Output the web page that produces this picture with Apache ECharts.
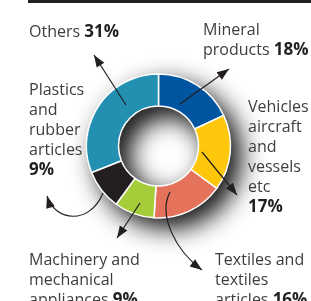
<!DOCTYPE html>
<html>
<head>
<meta charset="utf-8">
<style>
  html, body { margin: 0; padding: 0; background: #fff; }
  #chart { width: 311px; height: 301px; }
</style>
<script src="https://cdn.jsdelivr.net/npm/echarts@6/dist/echarts.min.js"></script>
</head>
<body>
<div id="chart"></div>
<script>
// clockwise from 12 o'clock; a trailing \n puts the share on its own line
var categories = [
    'Mineral\nproducts',
    'Vehicles\naircraft\nand\nvessels\netc\n',
    'Textiles and\ntextiles\narticles',
    'Machinery and\nmechanical\nappliances',
    'Plastics\nand\nrubber\narticles\n',
    'Others'
];
var shares = [18, 17, 16, 9, 9, 31];
var colors = ['#0055a1', '#fec70c', '#e5735b', '#a5cd39', '#231f20', '#238fb1'];

// where each label block sits (top-left corner)
var labelPos = [[203, 20], [248, 97], [215, 250], [29, 250], [29, 80], [29, 22]];

var chart = echarts.init(document.getElementById('chart'));

function arrowHead(x1, y1, x2, y2){
    // small filled triangle pointing from (x1,y1) towards (x2,y2)
    var a = Math.atan2(y2 - y1, x2 - x1), len = 12, w = 4.5;
    var bx = x2 - len * Math.cos(a), by = y2 - len * Math.sin(a);
    return {
        type: 'polygon',
        shape: { points: [
            [x2, y2],
            [bx + w * Math.sin(a), by - w * Math.cos(a)],
            [bx - w * Math.sin(a), by + w * Math.cos(a)]
        ]},
        style: { fill: '#231f20' },
        z: 10
    };
}
function straight(x1, y1, x2, y2){
    return [{
        type: 'line',
        shape: { x1: x1, y1: y1, x2: x2, y2: y2 },
        style: { stroke: '#231f20', lineWidth: 1.2 },
        z: 10
    }, arrowHead(x1, y1, x2, y2)];
}
function curve(x1, y1, cx1, cy1, cx2, cy2, x2, y2){
    return [{
        type: 'bezierCurve',
        shape: { x1: x1, y1: y1, cpx1: cx1, cpy1: cy1, cpx2: cx2, cpy2: cy2, x2: x2, y2: y2 },
        style: { stroke: '#231f20', lineWidth: 1.2, fill: null },
        z: 10
    }, arrowHead(cx2, cy2, x2, y2)];
}

var arrows = [].concat(
    straight(126, 105, 94, 55),
    straight(180, 104, 229, 69),
    straight(202, 152, 237, 195),
    straight(140, 203, 117, 238),
    curve(170, 192, 158, 215, 175, 250, 202, 270),
    curve(103, 193, 90, 225, 55, 222, 47, 196)
);

var option = {
    animation: false,
    textStyle: { fontFamily: 'Open Sans' },
    graphic: [{
        type: 'rect',
        shape: { x: 28, y: 0, width: 283, height: 3 },
        style: { fill: '#231f20' }
    }].concat(arrows),
    series: [
        {
            // shadow ring underneath
            type: 'pie',
            center: [158.5, 146],
            radius: [40, 72],
            silent: true,
            label: { show: false },
            labelLine: { show: false },
            itemStyle: {
                color: '#fff',
                shadowBlur: 26,
                shadowOffsetX: 10,
                shadowOffsetY: 10,
                shadowColor: 'rgba(0,0,0,1)'
            },
            data: [1]
        },
        {
            type: 'pie',
            center: [158.5, 146],
            radius: [40, 72],
            startAngle: 90,
            clockwise: true,
            itemStyle: { borderColor: '#fff', borderWidth: 1.5 },
            labelLine: { show: false },
            label: {
                show: true,
                color: '#3d3d3d',
                fontSize: 16,
                lineHeight: 20,
                overflow: 'none',
                formatter: function(p){
                    var sep = p.name.slice(-1) === '\n' ? '' : ' ';
                    return p.name + sep + '{b|' + p.value + '%}';
                },
                rich: {
                    b: { fontWeight: 'bold', color: '#231f20', fontSize: 17, lineHeight: 20 }
                }
            },
            labelLayout: function(p){
                var pos = labelPos[p.dataIndex];
                return { x: pos[0], y: pos[1], align: 'left', verticalAlign: 'top' };
            },
            data: categories.map(function(name, i){
                return { name: name, value: shares[i], itemStyle: { color: colors[i] } };
            })
        }
    ]
};
chart.setOption(option);
</script>
</body>
</html>
